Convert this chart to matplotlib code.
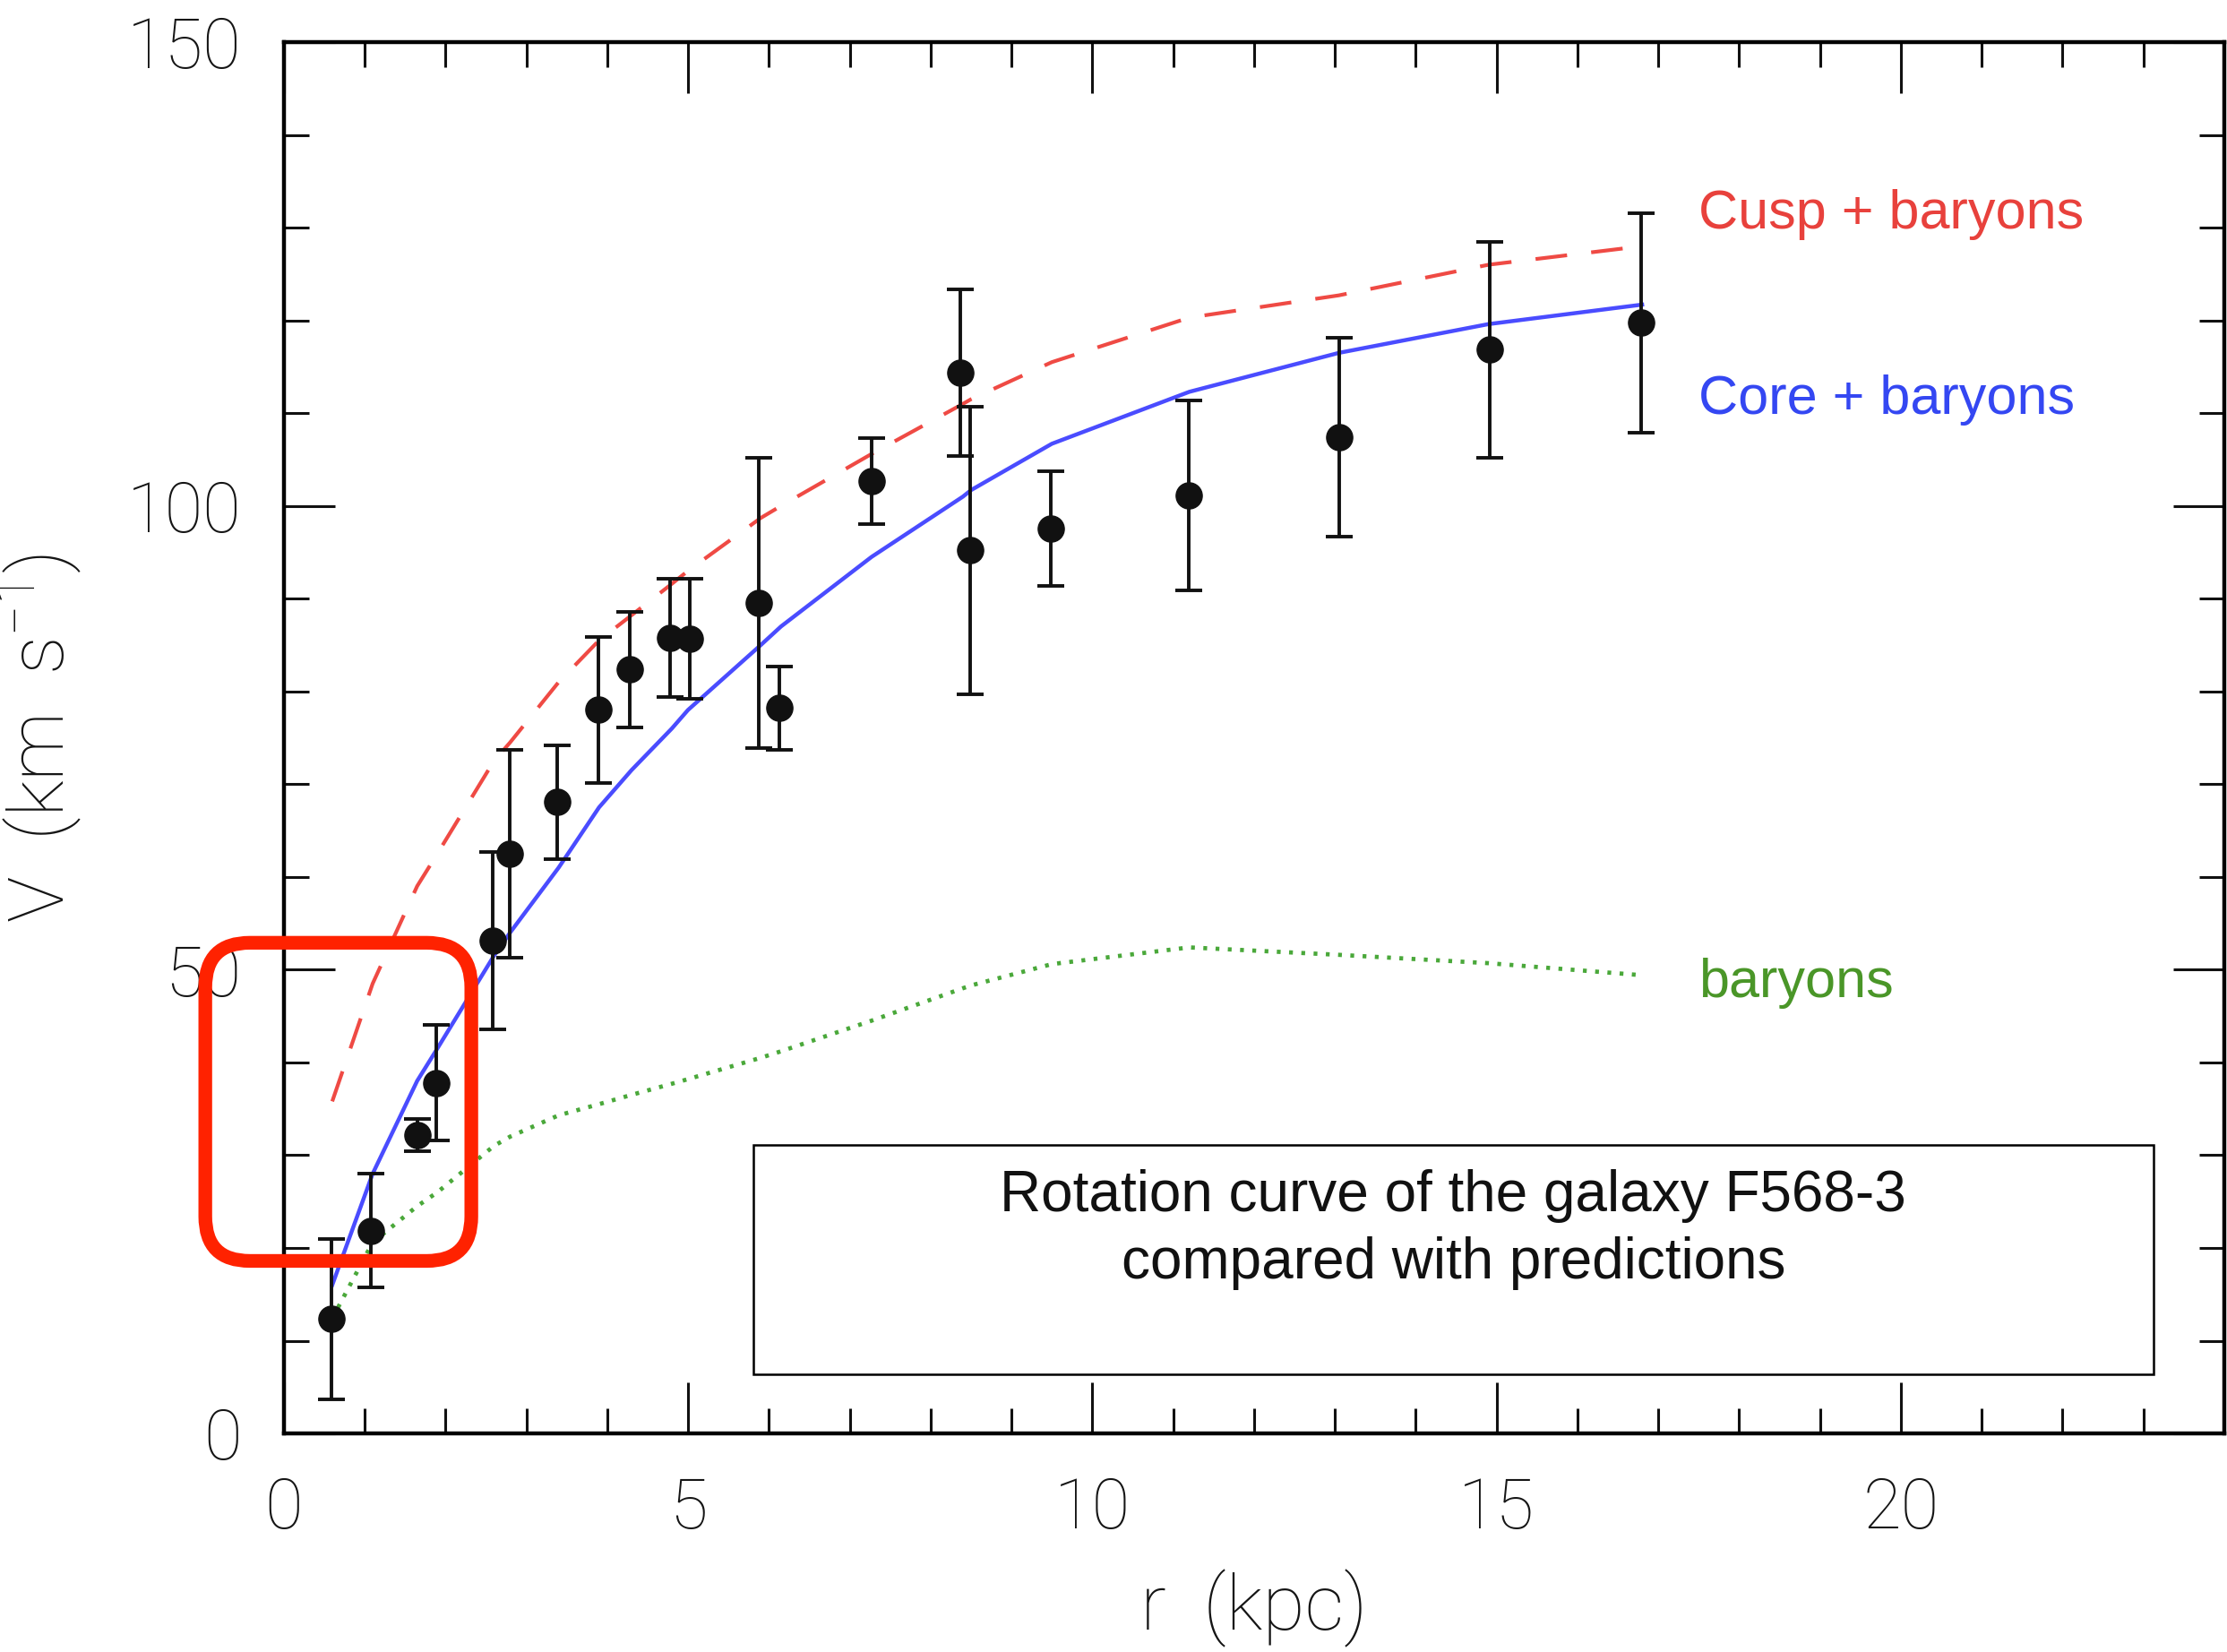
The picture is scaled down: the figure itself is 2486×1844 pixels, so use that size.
#!/usr/bin/env python
# -*- coding: utf-8 -*-
"""Rotation curve of F568-3 with model predictions."""
import matplotlib
matplotlib.use("Agg")
import matplotlib.pyplot as plt
from matplotlib.patches import FancyBboxPatch, Rectangle

# observed rotation curve
r_obs = [0.59, 1.08, 1.65, 1.89, 2.58, 2.79, 3.38, 3.89, 4.28, 4.78, 5.02,
         5.88, 6.13, 7.27, 8.37, 8.49, 9.49, 11.19, 13.05, 14.91, 16.79]
v_obs = [12.35, 21.85, 32.15, 37.8, 53.15, 62.5, 68.05, 78.0, 82.35, 85.75, 85.65,
         89.55, 78.2, 102.65, 114.35, 95.2, 97.55, 101.15, 107.4, 116.85, 119.75]
v_err = [8.65, 6.15, 1.75, 6.2, 9.55, 11.2, 6.15, 7.9, 6.25, 6.35, 6.45,
         15.65, 4.5, 4.65, 8.95, 15.5, 6.15, 10.25, 10.7, 11.65, 11.85]

# model curves
r_model = [0.6, 1.1, 1.65, 1.9, 2.6, 2.8, 3.4, 3.9, 4.3, 4.8, 5.0,
           5.9, 6.15, 7.27, 8.4, 8.5, 9.5, 11.2, 13.05, 14.9, 16.8]
v_cusp = [35.8, 48.5, 59.0, 62.5, 72.5, 74.5, 81.0, 85.5, 88.2, 91.6, 93.0,
          98.7, 100.0, 105.6, 111.0, 111.5, 115.5, 120.3, 122.7, 126.0, 128.0]
v_core = [16.0, 28.0, 38.0, 41.5, 51.5, 54.0, 61.0, 67.5, 71.5, 76.0, 78.0,
          85.0, 87.0, 94.5, 101.0, 101.7, 106.7, 112.3, 116.5, 119.6, 121.7]
v_bary = [12.4, 20.6, 24.5, 26.0, 31.0, 32.0, 34.3, 35.5, 36.5, 37.7, 38.2,
          40.5, 41.2, 44.5, 48.0, 48.3, 50.6, 52.4, 51.6, 50.7, 49.4]

labels = ["Cusp + baryons", "Core + baryons", "baryons"]
label_y = [129.9, 109.95, 47.0]
colors = ["#e8413c", "#3447f2", "#4a9628"]
line_colors = ["#ef4a44", "#4a4cff", "#4aa83a"]

caption = "Rotation curve of the galaxy F568-3\ncompared with predictions"

AXFONT = ["Roboto", "DejaVu Sans"]


def main():
    """Run main."""
    plt.rcParams["mathtext.default"] = "regular"
    fig = plt.figure(figsize=(24.86, 18.44), dpi=100)
    ax = fig.add_axes([0.1274, 0.1323, 0.8714, 0.8422])

    ax.plot(r_model, v_cusp, color=line_colors[0], lw=3.0, dashes=(8.5, 6.5))
    ax.plot(r_model, v_core, color=line_colors[1], lw=3.2)
    ax.plot(r_model, v_bary, color=line_colors[2], lw=3.4, dashes=(0.9, 2.0))
    ax.errorbar(r_obs, v_obs, yerr=v_err, fmt="o", color="#111111",
                markersize=21, elinewidth=2.8, capsize=11, capthick=2.8, zorder=5)

    for txt, y, c in zip(labels, label_y, colors):
        ax.text(17.5, y, txt, color=c, fontsize=44, family="Liberation Sans",
                va="baseline", ha="left")

    ax.set_xlim(0, 24)
    ax.set_ylim(0, 150)
    ax.set_xticks([0, 5, 10, 15, 20])
    ax.set_xticks(range(0, 24), minor=True)
    ax.set_yticks([0, 50, 100, 150])
    ax.set_yticks(range(0, 151, 10), minor=True)
    ax.tick_params(which="both", direction="in", top=True, right=True,
                   width=2.2, color="#111111")
    ax.tick_params(which="major", length=41, pad=34, labelsize=56,
                   labelcolor="#151515")
    ax.tick_params(which="minor", length=20)
    for lab in ax.get_xticklabels() + ax.get_yticklabels():
        lab.set_family(AXFONT)
        lab.set_fontweight("light")
    for sp in ax.spines.values():
        sp.set_linewidth(3.2)

    ax.set_xlabel("r  (kpc)", fontsize=62, family=AXFONT, fontweight="light",
                  color="#151515", va="center")
    ax.set_ylabel("V  (km  s$^{-1}$)", fontsize=62, family=AXFONT,
                  fontweight="light", color="#151515", va="center")
    ax.xaxis.set_label_coords(0.5, -0.1256)
    ax.yaxis.set_label_coords(-0.1258, 0.5)

    # caption box
    ax.add_patch(Rectangle((5.81, 6.4), 23.12 - 5.81, 31.1 - 6.4, fill=False,
                           lw=1.8, edgecolor="black", zorder=6))
    ax.text((5.81 + 23.12) / 2, 22.0, caption, ha="center", va="center",
            fontsize=46, family=["Liberation Sans", "DejaVu Sans"],
            linespacing=1.33, color="#111111", zorder=7)

    # highlight of the inner region
    aspect = (150 / 1553) / (24 / 2166.4)
    hl = FancyBboxPatch((-0.97, 18.6), 2.32 + 0.97, 52.9 - 18.6,
                        boxstyle="round,pad=0,rounding_size=0.55",
                        mutation_aspect=aspect, fill=False, lw=11,
                        edgecolor="#ff2200", clip_on=False, zorder=10)
    ax.add_patch(hl)

    fig.savefig("out.png", dpi=100)


if __name__ == "__main__":
    main()
